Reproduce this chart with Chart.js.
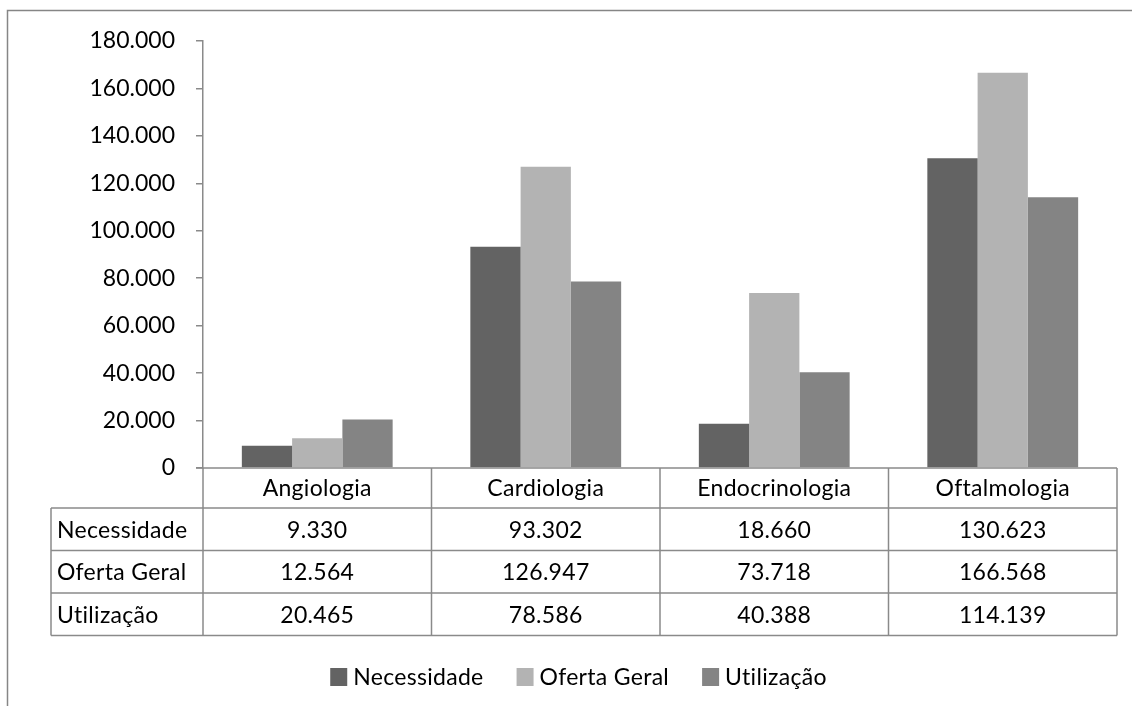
<!DOCTYPE html>
<html>
<head>
<meta charset="utf-8">
<script src="https://cdn.jsdelivr.net/npm/chart.js@4/dist/chart.umd.min.js"></script>
<style>
  html, body { margin: 0; padding: 0; background: #ffffff; }
  #wrap { width: 1132px; height: 706px; position: relative; }
  canvas { display: block; }
</style>
</head>
<body>
<div id="wrap"><canvas id="chart" width="1132" height="706"></canvas></div>
<script>
// Especialidades e séries
const categories = ['Angiologia', 'Cardiologia', 'Endocrinologia', 'Oftalmologia'];
const seriesNames = ['Necessidade', 'Oferta Geral', 'Utilização'];
const necessidade = [9330, 93302, 18660, 130623];
const ofertaGeral = [12564, 126947, 73718, 166568];
const utilizacao = [20465, 78586, 40388, 114139];
const yTickValues = [0, 20000, 40000, 60000, 80000, 100000, 120000, 140000, 160000, 180000];
const seriesColors = ['#636363', '#b3b3b3', '#848484'];

const FONT = 'Lato, "Open Sans", sans-serif';
const FONT_SIZE = 23;
const LINE = '#8a8a8a';

// número com ponto como separador de milhar
function fmt(n) {
  return String(n).replace(/\B(?=(\d{3})+(?!\d))/g, '.');
}

const seriesValues = [necessidade, ofertaGeral, utilizacao];

// Moldura externa, tabela de dados e legenda
const tablePlugin = {
  id: 'dataTable',
  afterDraw(chart) {
    const ctx = chart.ctx;
    const area = chart.chartArea;
    const left = area.left, right = area.right;
    const catW = (right - left) / categories.length;
    const tableLeft = 51;
    const top = area.bottom;
    const rowYs = [top, top + 40, top + 82.5, top + 125, top + 167.5];

    ctx.save();
    // moldura
    ctx.strokeStyle = '#868686';
    ctx.lineWidth = 1.5;
    ctx.strokeRect(7.5, 10.5, 1300, 900);

    // grade da tabela
    ctx.strokeStyle = LINE;
    ctx.lineWidth = 1.5;
    ctx.beginPath();
    ctx.moveTo(left - 7, rowYs[0]); ctx.lineTo(right, rowYs[0]);
    for (let r = 1; r < rowYs.length; r++) {
      ctx.moveTo(tableLeft, rowYs[r]); ctx.lineTo(right, rowYs[r]);
    }
    ctx.moveTo(tableLeft, rowYs[1]); ctx.lineTo(tableLeft, rowYs[4]);
    for (let i = 0; i <= categories.length; i++) {
      const x = left + i * catW;
      ctx.moveTo(x, rowYs[0]); ctx.lineTo(x, rowYs[4]);
    }
    ctx.stroke();

    // textos
    ctx.fillStyle = '#000000';
    ctx.font = FONT_SIZE + 'px ' + FONT;
    if ('letterSpacing' in ctx) ctx.letterSpacing = '0.3px';
    ctx.textBaseline = 'middle';
    ctx.textAlign = 'center';
    categories.forEach((c, i) => {
      ctx.fillText(c, left + (i + 0.5) * catW, (rowYs[0] + rowYs[1]) / 2 + 1);
    });
    seriesNames.forEach((name, s) => {
      const yc = (rowYs[s + 1] + rowYs[s + 2]) / 2 + 1;
      ctx.textAlign = 'left';
      ctx.fillText(name, tableLeft + 6, yc);
      ctx.textAlign = 'center';
      seriesValues[s].forEach((v, i) => {
        ctx.fillText(fmt(v), left + (i + 0.5) * catW, yc);
      });
    });

    // legenda
    const box = 17, boxH = 18, gap = 6, spacing = 33;
    const widths = seriesNames.map(n => ctx.measureText(n).width);
    const total = widths.reduce((a, w) => a + box + gap + w, 0) + spacing * (seriesNames.length - 1);
    let x = 578.5 - total / 2;
    const ly = 677;
    ctx.textAlign = 'left';
    seriesNames.forEach((n, s) => {
      ctx.fillStyle = seriesColors[s];
      ctx.fillRect(x, ly - boxH / 2, box, boxH);
      ctx.fillStyle = '#000000';
      ctx.fillText(n, x + box + gap, ly + 1);
      x += box + gap + widths[s] + spacing;
    });
    ctx.restore();
  }
};

function draw() {
  new Chart(document.getElementById('chart'), {
    type: 'bar',
    data: {
      labels: categories,
      datasets: seriesNames.map((name, s) => ({
        label: name,
        data: seriesValues[s],
        backgroundColor: seriesColors[s],
        borderWidth: 0,
        categoryPercentage: 0.66,
        barPercentage: 1.0
      }))
    },
    options: {
      responsive: false,
      animation: false,
      devicePixelRatio: 1,
      layout: { padding: { top: 41, right: 15, bottom: 238, left: 0 } },
      plugins: {
        legend: { display: false },
        tooltip: { enabled: false }
      },
      scales: {
        x: { display: false },
        y: {
          min: 0,
          max: 180000,
          afterBuildTicks(scale) {
            scale.ticks = yTickValues.map(v => ({ value: v }));
          },
          afterFit(scale) { scale.width = 203; },
          ticks: {
            callback: v => fmt(v),
            color: '#000000',
            font: { family: FONT, size: FONT_SIZE },
            padding: 21
          },
          grid: {
            drawOnChartArea: false,
            drawTicks: true,
            tickLength: 7,
            color: LINE,
            lineWidth: 1.5
          },
          border: { display: true, color: LINE, width: 1.5 }
        }
      }
    },
    plugins: [tablePlugin]
  });
}

if (document.fonts && document.fonts.load) {
  document.fonts.load(FONT_SIZE + 'px Lato').then(draw, draw);
} else {
  draw();
}
</script>
</body>
</html>
